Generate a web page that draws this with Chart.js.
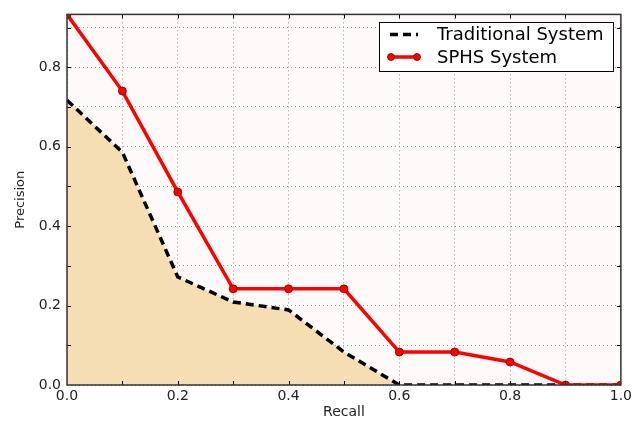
<!DOCTYPE html>
<html><head><meta charset="utf-8">
<script src="https://cdn.jsdelivr.net/npm/chart.js@4"></script>
<style>html,body{margin:0;padding:0;background:#fff;}#wrap{width:635px;height:421px;}</style>
</head><body><div id="wrap"><canvas id="c" width="635" height="421"></canvas></div>
<script>
const recall = [0.0, 0.1, 0.2, 0.3, 0.4, 0.5, 0.6, 0.7, 0.8, 0.9, 1.0];
const traditional = [0.717, 0.586, 0.272, 0.209, 0.189, 0.083, 0.0, 0.0, 0.0, 0.0, 0.0];
const sphs = [0.933, 0.740, 0.486, 0.242, 0.242, 0.242, 0.083, 0.083, 0.058, 0.0, 0.0];
const seriesNames = ['Traditional System', 'SPHS System'];
const xTitle = 'Recall';
const yTitle = 'Precision';

const FONT = 'DejaVu Sans';

const framePlugin = {
  id: 'frame',
  beforeDraw(chart) {
    const {ctx, chartArea: a} = chart;
    ctx.save();
    ctx.fillStyle = '#fffafa';
    ctx.fillRect(a.left, a.top, a.right - a.left, a.bottom - a.top);
    ctx.restore();
  },
  afterDraw(chart) {
    const {ctx, chartArea: a, scales} = chart;
    ctx.save();
    ctx.strokeStyle = '#000';
    ctx.lineWidth = 1;
    for (let i = 1; i < 10; i++) {
      const v = i / 10;
      const x = Math.round(scales.x.getPixelForValue(v)) + 0.5;
      ctx.beginPath();
      ctx.moveTo(x, a.bottom); ctx.lineTo(x, a.bottom - 4);
      ctx.moveTo(x, a.top); ctx.lineTo(x, a.top + 4);
      ctx.stroke();
    }
    for (let i = 1; i <= 9; i++) {
      const v = i / 10;
      if (v > scales.y.max) break;
      const y = Math.round(scales.y.getPixelForValue(v)) + 0.5;
      ctx.beginPath();
      ctx.moveTo(a.left, y); ctx.lineTo(a.left + 4, y);
      ctx.moveTo(a.right, y); ctx.lineTo(a.right - 4, y);
      ctx.stroke();
    }
    ctx.strokeStyle = '#333';
    ctx.lineWidth = 1.5;
    ctx.strokeRect(a.left, a.top, a.right - a.left, a.bottom - a.top);
    // legend
    const lx = 379, ly = 22, lw = 234, lh = 49;
    ctx.fillStyle = '#fff';
    ctx.fillRect(lx, ly, lw, lh);
    ctx.strokeStyle = '#000';
    ctx.lineWidth = 1;
    ctx.strokeRect(lx + 0.5, ly + 0.5, lw, lh);
    const r1 = ly + 12.5, r2 = ly + 35;
    ctx.strokeStyle = '#000';
    ctx.lineWidth = 3.5;
    ctx.setLineDash([8, 5]);
    ctx.beginPath(); ctx.moveTo(390, r1); ctx.lineTo(418, r1); ctx.stroke();
    ctx.setLineDash([]);
    ctx.strokeStyle = '#ff0000';
    ctx.beginPath(); ctx.moveTo(391, r2); ctx.lineTo(417, r2); ctx.stroke();
    ctx.fillStyle = '#ff0000';
    ctx.strokeStyle = '#700';
    ctx.lineWidth = 0.8;
    [391, 417].forEach(px => { ctx.beginPath(); ctx.arc(px, r2, 3.5, 0, Math.PI * 2); ctx.fill(); ctx.stroke(); });
    ctx.fillStyle = '#000';
    ctx.font = '18px "' + FONT + '"';
    ctx.textBaseline = 'middle';
    ctx.textAlign = 'left';
    ctx.fillText(seriesNames[0], 437, r1 + 1);
    ctx.fillText(seriesNames[1], 437, r2 + 1);
    ctx.restore();
  }
};

const toPts = arr => arr.map((v, i) => ({x: recall[i], y: v}));

new Chart(document.getElementById('c'), {
  type: 'line',
  data: {
    datasets: [
      {
        label: seriesNames[1],
        data: toPts(sphs),
        borderColor: '#ff0000',
        borderWidth: 3.5,
        pointRadius: 4,
        pointBackgroundColor: '#ff0000',
        pointBorderColor: '#7a0000',
        pointBorderWidth: 0.8,
        fill: false,
        tension: 0,
        order: 1
      },
      {
        label: seriesNames[0],
        data: toPts(traditional),
        borderColor: '#000',
        borderWidth: 3.5,
        borderDash: [8, 5],
        pointRadius: 0,
        fill: 'origin',
        backgroundColor: '#f5deb3',
        tension: 0,
        order: 2
      }
    ]
  },
  options: {
    responsive: false,
    animation: false,
    events: [],
    layout: {padding: {top: 14, right: 12, left: 0, bottom: 0}},
    plugins: {legend: {display: false}, tooltip: {enabled: false}},
    scales: {
      x: {
        type: 'linear', min: 0, max: 1,
        afterFit(s) { s.height = 36; },
        ticks: {
          stepSize: 0.1, autoSkip: false, maxRotation: 0, padding: 3,
          color: '#222', font: {family: FONT, size: 14},
          callback: v => (Math.round(v * 10) % 2 === 0 ? v.toFixed(1) : '')
        },
        grid: {color: '#999', lineWidth: 1, drawTicks: false},
        border: {display: false, dash: [1, 3]},
        title: {display: true, text: xTitle, color: '#222', font: {family: FONT, size: 14}, padding: {top: 2, bottom: 0}}
      },
      y: {
        type: 'linear', min: 0, max: 0.933,
        afterFit(s) { s.width = 67; },
        afterBuildTicks(s) { s.ticks = [0,1,2,3,4,5,6,7,8,9].map(i => ({value: i / 10})); },
        ticks: {
          autoSkip: false, padding: 6,
          color: '#222', font: {family: FONT, size: 14},
          callback: v => (Math.round(v * 10) % 2 === 0 ? v.toFixed(1) : '')
        },
        grid: {color: '#999', lineWidth: 1, drawTicks: false},
        border: {display: false, dash: [1, 3]},
        title: {display: true, text: yTitle, color: '#222', font: {family: FONT, size: 13}, padding: {top: 13, bottom: 8}}
      }
    }
  },
  plugins: [framePlugin]
});
</script>
</body></html>
